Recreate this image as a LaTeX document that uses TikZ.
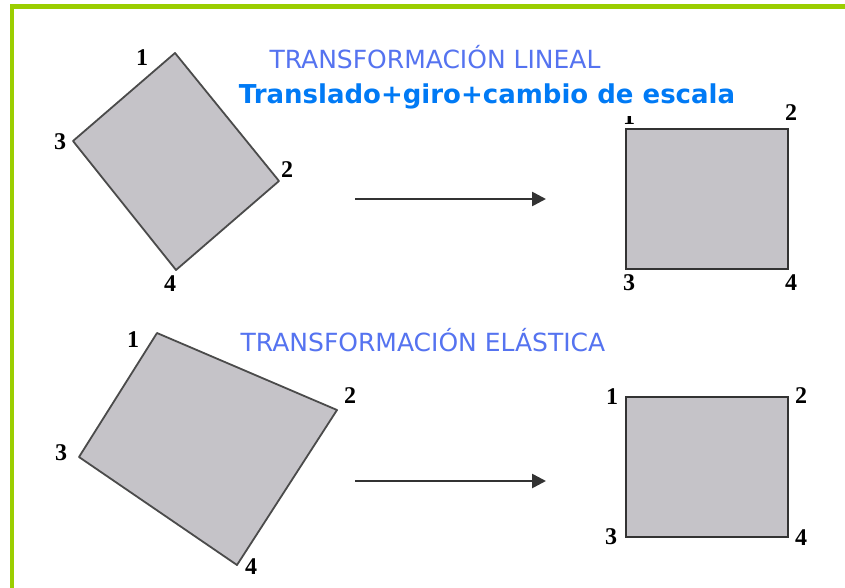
\documentclass[tikz,border=0pt]{standalone}
\usepackage{fontspec}
\setmainfont{Liberation Serif}
\newfontfamily\titlefont{DejaVu Sans}
\newfontfamily\boldtitlefont{DejaVu Sans}
\usetikzlibrary{arrows.meta}
\definecolor{framegreen}{RGB}{155,206,0}
\definecolor{lightblue}{RGB}{85,115,240}
\definecolor{strongblue}{RGB}{0,122,245}
\definecolor{shapegray}{RGB}{197,195,200}
\definecolor{edgegray}{RGB}{75,75,75}
\tikzset{
  quad/.style={fill=shapegray, draw=edgegray, line width=1.8pt, line join=round},
  rectshape/.style={fill=shapegray, draw=black!80, line width=2.8pt},
  num/.style={font=\fontsize{24}{24}\selectfont\bfseries, inner sep=0pt},
  title/.style={font=\titlefont\fontsize{25}{25}\selectfont, text=lightblue, inner sep=0pt},
  subtitle/.style={font=\boldtitlefont\bfseries\fontsize{26}{26}\selectfont, text=strongblue},
  maparrow/.style={draw=black!80, line width=2.6pt, -{Triangle[length=14pt,width=14pt]}}
}
\begin{document}
\begin{tikzpicture}[x=1pt,y=-1pt]
\useasboundingbox (0,0) rectangle (845,588);
\fill[white] (0,0) rectangle (845,588);
% frame
\fill[framegreen] (10,4) rectangle (845,9);
\fill[framegreen] (10,4) rectangle (14,588);

% top left quadrilateral
\coordinate (a1) at (175,53);
\coordinate (a2) at (279,181);
\coordinate (a4) at (176,270);
\coordinate (a3) at (73,141);
\draw[quad] (a1) -- (a2) -- (a4) -- (a3) -- cycle;
\node[num] (la1) at (142,58) {1};
\node[num] (la2) at (287,170) {2};
\node[num] (la3) at (60,142) {3};
\node[num] (la4) at (170,284) {4};

% top right rectangle
\coordinate (b1) at (626,129);
\coordinate (b4) at (788,269);
\draw[rectshape] (b1) rectangle (b4);
\node[num] (lb1) at (629,117) {1};
\node[num] (lb2) at (791,113) {2};
\node[num] (lb3) at (629,283) {3};
\node[num] (lb4) at (791,283) {4};

% titles
\node[title] (t1) at (435,57) {TRANSFORMACIÓN LINEAL};
\node[subtitle, fill=white, inner xsep=2pt, inner ysep=0pt, minimum height=40pt] (t2) at (487,96) {Translado+giro+cambio de escala};

% top arrow
\coordinate (ar1s) at (355,199);
\coordinate (ar1e) at (546,199);
\draw[maparrow] (ar1s) -- (ar1e);

% bottom left quadrilateral
\coordinate (c1) at (157,333);
\coordinate (c2) at (337,410);
\coordinate (c4) at (237,565);
\coordinate (c3) at (79,457);
\draw[quad] (c1) -- (c2) -- (c4) -- (c3) -- cycle;
\node[num] (lc1) at (133,340) {1};
\node[num] (lc2) at (350,396) {2};
\node[num] (lc3) at (61,453) {3};
\node[num] (lc4) at (251,567) {4};

% bottom right rectangle
\coordinate (d1) at (626,397);
\coordinate (d4) at (788,537);
\draw[rectshape] (d1) rectangle (d4);
\node[num] (ld1) at (612,397) {1};
\node[num] (ld2) at (801,396) {2};
\node[num] (ld3) at (611,537) {3};
\node[num] (ld4) at (801,538) {4};

\node[title] (t3) at (423,340) {TRANSFORMACIÓN ELÁSTICA};

% bottom arrow
\coordinate (ar2s) at (355,481);
\coordinate (ar2e) at (546,481);
\draw[maparrow] (ar2s) -- (ar2e);
\end{tikzpicture}
\end{document}
